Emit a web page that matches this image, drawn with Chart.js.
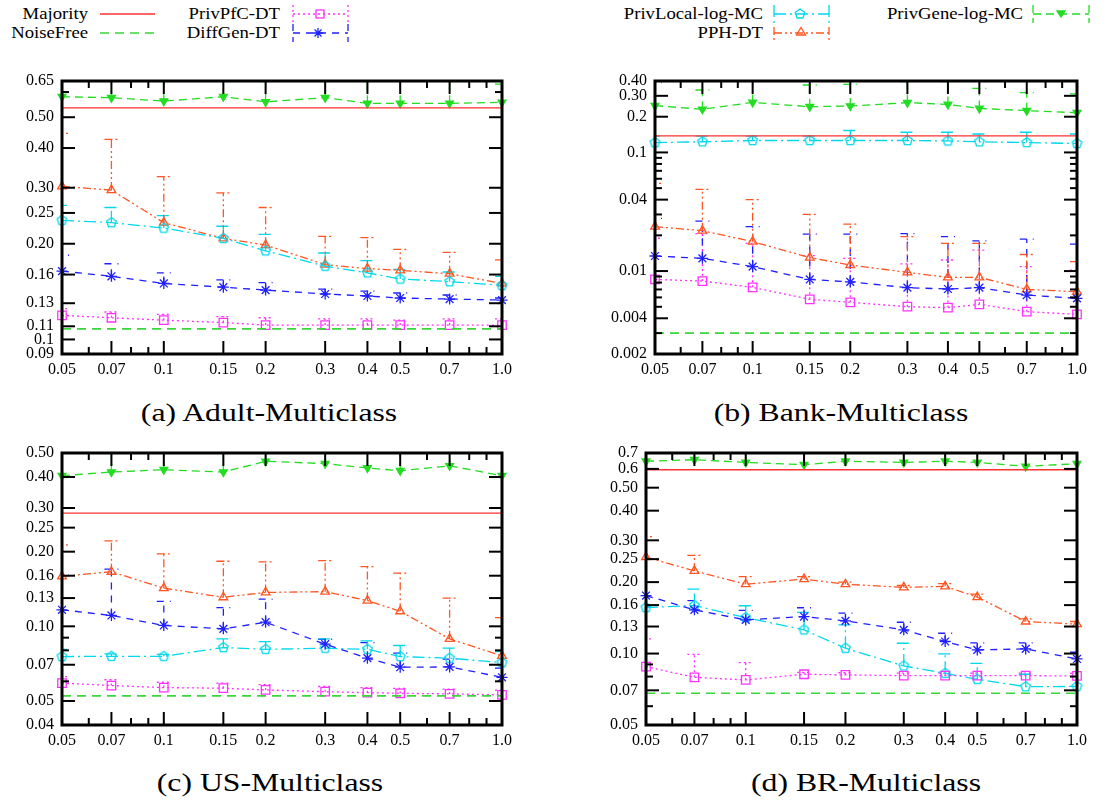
<!DOCTYPE html>
<html>
<head>
<meta charset="utf-8">
<title>Multiclass error rates</title>
<script src="https://cdn.jsdelivr.net/npm/chart.js@4.4.1/dist/chart.umd.min.js"></script>
<style>
  body { margin: 0; background: #fff; font-family: "Liberation Serif", "Times New Roman", serif; }
  #page { position: relative; width: 1110px; height: 805px; overflow: hidden; }
  #page canvas { position: absolute; }
  .lt { position: absolute; width: 200px; text-align: right; font-size: 17px; line-height: 18px; white-space: nowrap;
        transform: scaleX(1.1); transform-origin: right center; }
  .cap { position: absolute; font-size: 26px; line-height: 26px; white-space: nowrap; transform: translateX(-50%) scaleX(1.22); }
  #keys { position: absolute; left: 0; top: 0; }
</style>
</head>
<body>
<div id="page">
  <!-- legend -->
  <div class="lt" style="left:-112px;top:5px">Majority</div>
  <div class="lt" style="left:-112px;top:24px">NoiseFree</div>
  <div class="lt" style="left:80px;top:5px">PrivPfC-DT</div>
  <div class="lt" style="left:80px;top:24px">DiffGen-DT</div>
  <div class="lt" style="left:563px;top:5px">PrivLocal-log-MC</div>
  <div class="lt" style="left:563px;top:24px">PPH-DT</div>
  <div class="lt" style="left:823px;top:5px">PrivGene-log-MC</div>
  <svg id="keys" width="1110" height="46" fill="none" stroke-width="1.3">
    <path d="M100 14H155" stroke="#ff3030"/>
    <path d="M100 33H155" stroke="#38d838" stroke-dasharray="9 6" stroke-width="1.6"/>
    <g stroke="#ff30ff">
      <path d="M293 14H348M293 5V23M348 5V23" stroke-dasharray="2 3"/>
      <rect x="316" y="10" width="8" height="8"/>
    </g>
    <g stroke="#1f1fff">
      <path d="M293 33H348M293 24V42M348 24V42" stroke-dasharray="7 6"/>
      <path d="M313 33H323M318 28V38M314.5 29.5L321.5 36.5M321.5 29.5L314.5 36.5"/>
    </g>
    <g stroke="#00d8ec">
      <path d="M774 14H829M774 5V23M829 5V23" stroke-dasharray="12 4 2 4"/>
      <path d="M800 9L804.8 12.5L802.9 18L797.1 18L795.2 12.5Z"/>
    </g>
    <g stroke="#ff5522">
      <path d="M774 33H829M774 27V42M829 27V42" stroke-dasharray="8 3 2 3 2 3"/>
      <path d="M801 27.5L805.5 35L796.5 35Z"/>
    </g>
    <g stroke="#22dd22">
      <path d="M1033 14H1089M1033 5V23M1089 5V23" stroke-dasharray="8 5"/>
      <path d="M1057 11L1065 11L1061 17Z" fill="#22dd22"/>
    </g>
  </svg>
  <div class="cap" style="left:269px;top:400px">(a) Adult-Multiclass</div>
  <div class="cap" style="left:841px;top:400px">(b) Bank-Multiclass</div>
  <div class="cap" style="left:270px;top:770px">(c) US-Multiclass</div>
  <div class="cap" style="left:866px;top:770px">(d) BR-Multiclass</div>
</div>
<script>
// privacy budget on the x axis (log)
const xVals = [0.05, 0.07, 0.1, 0.15, 0.2, 0.3, 0.4, 0.5, 0.7, 1.0];
const xLabels = ['0.05', '0.07', '0.1', '0.15', '0.2', '0.3', '0.4', '0.5', '0.7', '1.0'];
const xMinor = [0.06, 0.08, 0.09, 0.6, 0.8, 0.9];

// (a) Adult
const adultYTicks = [0.65, 0.50, 0.40, 0.30, 0.25, 0.20, 0.16, 0.13, 0.11, 0.1, 0.09];
const adultYLabels = ['0.65', '0.50', '0.40', '0.30', '0.25', '0.20', '0.16', '0.13', '0.11', '0.1', '0.09'];
const adultYMinor = [0.6];
const adultMajority = 0.535;
const adultNoiseFree = 0.108;
const adultPfC = [0.119, 0.117, 0.115, 0.113, 0.111, 0.111, 0.111, 0.111, 0.111, 0.111];
const adultPfCErr = [0.125, 0.122, 0.120, 0.118, 0.117, 0.116, 0.116, 0.115, 0.116, 0.116];
const adultDiffGen = [0.164, 0.158, 0.150, 0.146, 0.143, 0.139, 0.137, 0.135, 0.134, 0.133];
const adultDiffGenErr = [0.184, 0.173, 0.162, 0.154, 0.151, 0.144, 0.142, 0.140, 0.138, 0.135];
const adultLocal = [0.237, 0.233, 0.224, 0.208, 0.190, 0.170, 0.162, 0.155, 0.152, 0.148];
const adultLocalErr = [0.264, 0.260, 0.245, 0.227, 0.214, 0.187, 0.177, 0.166, 0.163, 0.158];
const adultPPH = [0.303, 0.295, 0.233, 0.208, 0.198, 0.172, 0.167, 0.165, 0.161, 0.150];
const adultPPHErr = [0.445, 0.426, 0.325, 0.289, 0.260, 0.211, 0.209, 0.192, 0.188, 0.178];
const adultGene = [0.580, 0.576, 0.562, 0.580, 0.559, 0.576, 0.553, 0.553, 0.553, 0.557];
const adultGeneErr = [0.72, 0.72, 0.72, 0.72, 0.647, 0.72, 0.72, 0.72, 0.72, 0.635];

// (b) Bank
const bankYTicks = [0.40, 0.30, 0.2, 0.1, 0.04, 0.01, 0.004, 0.002];
const bankYLabels = ['0.40', '0.30', '0.2', '0.1', '0.04', '0.01', '0.004', '0.002'];
const bankYMinor = [0.09, 0.08, 0.07, 0.06, 0.05, 0.03, 0.02, 0.009, 0.008, 0.007, 0.006, 0.005, 0.003];
const bankMajority = 0.138;
const bankNoiseFree = 0.003;
const bankPfC = [0.0085, 0.00824, 0.00729, 0.00578, 0.00545, 0.00501, 0.00492, 0.00524, 0.00455, 0.00432];
const bankPfCErr = [0.0189, 0.0207, 0.0171, 0.0135, 0.0128, 0.0115, 0.0124, 0.0150, 0.0109, 0.0102];
const bankDiffGen = [0.0134, 0.0128, 0.0109, 0.0085, 0.0081, 0.00725, 0.00706, 0.00725, 0.00628, 0.00589];
const bankDiffGenErr = [0.0278, 0.0264, 0.0237, 0.0205, 0.0205, 0.0207, 0.0195, 0.0180, 0.0186, 0.0169];
const bankLocal = [0.121, 0.123, 0.126, 0.126, 0.126, 0.126, 0.125, 0.123, 0.121, 0.119];
const bankLocalErr = [0.137, 0.137, 0.137, 0.137, 0.153, 0.148, 0.148, 0.143, 0.148, 0.143];
const bankPPH = [0.0237, 0.0219, 0.0177, 0.0130, 0.01125, 0.00976, 0.00885, 0.00885, 0.00701, 0.0067];
const bankPPHErr = [0.0549, 0.0488, 0.0400, 0.0301, 0.0249, 0.0195, 0.0171, 0.0171, 0.0138, 0.0120];
const bankGene = [0.248, 0.231, 0.264, 0.243, 0.246, 0.263, 0.254, 0.235, 0.225, 0.216];
const bankGeneErr = [0.387, 0.336, 0.45, 0.370, 0.374, 0.395, 0.395, 0.347, 0.319, 0.311];

// (c) US
const usYTicks = [0.50, 0.40, 0.30, 0.25, 0.20, 0.16, 0.13, 0.10, 0.07, 0.05, 0.04];
const usYLabels = ['0.50', '0.40', '0.30', '0.25', '0.20', '0.16', '0.13', '0.10', '0.07', '0.05', '0.04'];
const usYMinor = [0.09, 0.08, 0.06];
const usMajority = 0.286;
const usNoiseFree = 0.0524;
const usPfC = [0.0590, 0.0577, 0.0566, 0.0563, 0.0554, 0.0545, 0.0540, 0.0537, 0.0534, 0.0529];
const usPfCErr = [0.0627, 0.0609, 0.0595, 0.0590, 0.0582, 0.0572, 0.0566, 0.0562, 0.0558, 0.0553];
const usDiffGen = [0.1166, 0.1106, 0.1008, 0.0977, 0.1039, 0.0847, 0.0744, 0.0684, 0.0686, 0.0623];
const usDiffGenErr = [0.161, 0.170, 0.126, 0.119, 0.1287, 0.0887, 0.0860, 0.0779, 0.0737, 0.0678];
const usLocal = [0.0755, 0.0757, 0.0757, 0.0821, 0.0808, 0.0816, 0.0808, 0.0755, 0.0744, 0.0714];
const usLocalErr = [0.0808, 0.0774, 0.0771, 0.0890, 0.0868, 0.0890, 0.0873, 0.0837, 0.0816, 0.0791];
const usPPH = [0.159, 0.166, 0.1425, 0.131, 0.137, 0.138, 0.127, 0.115, 0.089, 0.076];
const usPPHErr = [0.213, 0.221, 0.196, 0.183, 0.182, 0.184, 0.174, 0.164, 0.130, 0.1085];
const usGene = [0.405, 0.419, 0.428, 0.419, 0.463, 0.453, 0.435, 0.424, 0.444, 0.405];
const usGeneErr = [0.6, 0.6, 0.6, 0.6, 0.6, 0.6, 0.6, 0.6, 0.6, 0.6];

// (d) BR
const brYTicks = [0.7, 0.6, 0.50, 0.40, 0.30, 0.25, 0.20, 0.16, 0.13, 0.10, 0.07, 0.05];
const brYLabels = ['0.7', '0.6', '0.50', '0.40', '0.30', '0.25', '0.20', '0.16', '0.13', '0.10', '0.07', '0.05'];
const brYMinor = [0.09, 0.08, 0.06];
const brMajority = 0.595;
const brNoiseFree = 0.068;
const brPfC = [0.0881, 0.0794, 0.0774, 0.0818, 0.0813, 0.0807, 0.0807, 0.0807, 0.0807, 0.0805];
const brPfCErr = [0.1153, 0.0993, 0.0916, 0.0833, 0.0830, 0.0827, 0.0827, 0.0827, 0.0827, 0.0825];
const brDiffGen = [0.1756, 0.1528, 0.1386, 0.1432, 0.1373, 0.1259, 0.1124, 0.1036, 0.1046, 0.0949];
const brDiffGenErr = [0.200, 0.167, 0.152, 0.156, 0.148, 0.1355, 0.1218, 0.111, 0.111, 0.1013];
const brLocal = [0.1563, 0.1594, 0.1418, 0.1259, 0.1053, 0.0887, 0.0826, 0.0779, 0.0725, 0.0727];
const brLocalErr = [0.158, 0.187, 0.159, 0.149, 0.132, 0.1105, 0.0996, 0.091, 0.0818, 0.0727];
const brPPH = [0.255, 0.223, 0.196, 0.206, 0.196, 0.190, 0.192, 0.173, 0.1365, 0.133];
const brPPHErr = [0.311, 0.259, 0.211, 0.211, 0.200, 0.1935, 0.197, 0.178, 0.140, 0.1365];
const brGene = [0.646, 0.656, 0.639, 0.625, 0.646, 0.639, 0.646, 0.639, 0.615, 0.631];
const brGeneErr = [0.8, 0.8, 0.8, 0.8, 0.8, 0.8, 0.8, 0.8, 0.8, 0.8];

// pentagon marker for PrivLocal (no built-in one)
function pentagon(color) {
  const c = document.createElement('canvas');
  c.width = 13; c.height = 13;
  const g = c.getContext('2d');
  g.strokeStyle = color; g.lineWidth = 1.3;
  g.beginPath();
  for (let k = 0; k < 5; k++) {
    const a = -Math.PI / 2 + k * 2 * Math.PI / 5;
    g.lineTo(6.5 + 5 * Math.cos(a), 6.5 + 5 * Math.sin(a));
  }
  g.closePath(); g.stroke();
  return c;
}

const styles = {
  majority: { color: '#ff3030', dash: [], width: 1.3 },
  noiseFree: { color: '#38d838', dash: [9, 6], width: 1.6 },
  pfc: { color: '#ff30ff', dash: [2, 3], point: 'rect', radius: 6 },
  diffGen: { color: '#1f1fff', dash: [7, 6], point: 'star', radius: 5.5 },
  local: { color: '#00d8ec', dash: [12, 4, 2, 4], point: pentagon('#00d8ec'), radius: 5 },
  pph: { color: '#ff5522', dash: [8, 3, 2, 3, 2, 3], point: 'triangle', radius: 5 },
  gene: { color: '#22dd22', dash: [8, 5], point: 'triangle', radius: 4.5, rot: 180, fill: '#22dd22' }
};

function flat(v, st) {
  return {
    data: xVals.map(x => ({ x: x, y: v })),
    borderColor: st.color, borderDash: st.dash, borderWidth: st.width,
    pointRadius: 0, fill: false, clip: false
  };
}

function series(vals, err, st) {
  return {
    data: xVals.map((x, i) => ({ x: x, y: vals[i] })),
    errTop: err,
    borderColor: st.color, borderDash: st.dash, borderWidth: 1.3,
    pointStyle: st.point, pointRadius: st.radius, pointRotation: st.rot || 0,
    pointBorderColor: st.color, pointBackgroundColor: st.fill || 'rgba(0,0,0,0)',
    pointBorderWidth: 1.3, fill: false, tension: 0, clip: false
  };
}

// upper error bars, drawn in the line style of each series
const errorBars = {
  id: 'errorBars',
  beforeDatasetsDraw(chart) {
    const { ctx, chartArea: a, scales: { y } } = chart;
    ctx.save();
    ctx.beginPath();
    ctx.rect(a.left, a.top, a.right - a.left, a.bottom - a.top);
    ctx.clip();
    chart.data.datasets.forEach((ds, i) => {
      if (!ds.errTop) return;
      ctx.strokeStyle = ds.borderColor;
      ctx.lineWidth = ds.borderWidth;
      ctx.setLineDash(ds.borderDash);
      chart.getDatasetMeta(i).data.forEach((p, j) => {
        const top = y.getPixelForValue(ds.errTop[j]);
        ctx.beginPath();
        ctx.moveTo(p.x, p.y); ctx.lineTo(p.x, top);
        ctx.moveTo(p.x - 7, top); ctx.lineTo(p.x + 7, top);
        ctx.stroke();
      });
    });
    ctx.restore();
  }
};

// gnuplot-like frame with inward tics
const frame = {
  id: 'frame',
  afterDraw(chart, args, o) {
    const { ctx, chartArea: a, scales: { x, y } } = chart;
    ctx.save();
    ctx.strokeStyle = '#000';
    ctx.lineWidth = 2;
    const seg = (x1, y1, x2, y2) => { ctx.beginPath(); ctx.moveTo(x1, y1); ctx.lineTo(x2, y2); ctx.stroke(); };
    const xMark = (v, len) => {
      const p = x.getPixelForValue(v);
      seg(p, a.bottom, p, a.bottom - len); seg(p, a.top, p, a.top + len);
    };
    const yMark = (v, len) => {
      const p = y.getPixelForValue(v);
      seg(a.left, p, a.left + len, p); seg(a.right, p, a.right - len, p);
    };
    xVals.forEach(v => xMark(v, 13));
    xMinor.forEach(v => xMark(v, 7));
    o.major.forEach(v => yMark(v, 13));
    o.minor.forEach(v => yMark(v, 7));
    ctx.lineWidth = 3;
    ctx.strokeRect(a.left, a.top, a.right - a.left, a.bottom - a.top);
    ctx.restore();
  }
};

Chart.defaults.font.family = '"Liberation Serif", "Times New Roman", serif';
Chart.defaults.font.size = 16;
Chart.defaults.color = '#000';

// label overhang must not push the plot area around
function noOverhang(s) {
  s.paddingTop = 0; s.paddingBottom = 0; s.paddingLeft = 0; s.paddingRight = 0;
}

function makeChart(box, area, yMin, yMax, yTicks, yLabels, yMinor, datasets) {
  const cv = document.createElement('canvas');
  cv.width = box.w; cv.height = box.h;
  cv.style.left = box.left + 'px'; cv.style.top = box.top + 'px';
  document.getElementById('page').appendChild(cv);
  new Chart(cv, {
    type: 'line',
    data: { datasets: datasets },
    options: {
      responsive: false,
      animation: false,
      events: [],
      layout: { autoPadding: false, padding: { left: 0, bottom: 0, top: area.t - box.top, right: box.left + box.w - area.r } },
      plugins: {
        legend: { display: false },
        tooltip: { enabled: false },
        frame: { major: yTicks, minor: yMinor }
      },
      scales: {
        x: {
          type: 'logarithmic', min: 0.05, max: 1.0,
          grid: { display: false, drawTicks: false, tickLength: 0 },
          border: { display: false },
          afterBuildTicks: s => { s.ticks = xVals.map(v => ({ value: v })); },
          afterFit: s => { s.height = box.top + box.h - area.b; noOverhang(s); },
          ticks: { autoSkip: false, maxRotation: 0, padding: 6, callback: (v, i) => xLabels[i] }
        },
        y: {
          type: 'logarithmic', min: yMin, max: yMax,
          grid: { display: false, drawTicks: false, tickLength: 0 },
          border: { display: false },
          afterBuildTicks: s => { s.ticks = yTicks.map(v => ({ value: v })); },
          afterFit: s => { s.width = area.l - box.left; noOverhang(s); },
          ticks: { autoSkip: false, padding: 8, callback: (v, i) => yLabels[i] }
        }
      }
    },
    plugins: [errorBars, frame]
  });
}

function groupSets(maj, nf, pfc, pfcErr, dg, dgErr, loc, locErr, pph, pphErr, gene, geneErr) {
  return [
    flat(maj, styles.majority),
    flat(nf, styles.noiseFree),
    series(pfc, pfcErr, styles.pfc),
    series(dg, dgErr, styles.diffGen),
    series(loc, locErr, styles.local),
    series(pph, pphErr, styles.pph),
    series(gene, geneErr, styles.gene)
  ];
}

makeChart({ left: 0, top: 70, w: 530, h: 330 }, { l: 62, t: 81, r: 502, b: 354 },
  0.09, 0.65, adultYTicks, adultYLabels, adultYMinor,
  groupSets(adultMajority, adultNoiseFree, adultPfC, adultPfCErr, adultDiffGen, adultDiffGenErr,
    adultLocal, adultLocalErr, adultPPH, adultPPHErr, adultGene, adultGeneErr));

makeChart({ left: 570, top: 70, w: 540, h: 330 }, { l: 655, t: 81, r: 1077, b: 354 },
  0.002, 0.40, bankYTicks, bankYLabels, bankYMinor,
  groupSets(bankMajority, bankNoiseFree, bankPfC, bankPfCErr, bankDiffGen, bankDiffGenErr,
    bankLocal, bankLocalErr, bankPPH, bankPPHErr, bankGene, bankGeneErr));

makeChart({ left: 0, top: 440, w: 530, h: 330 }, { l: 62, t: 453, r: 502, b: 725 },
  0.04, 0.50, usYTicks, usYLabels, usYMinor,
  groupSets(usMajority, usNoiseFree, usPfC, usPfCErr, usDiffGen, usDiffGenErr,
    usLocal, usLocalErr, usPPH, usPPHErr, usGene, usGeneErr));

makeChart({ left: 570, top: 440, w: 540, h: 330 }, { l: 646, t: 453, r: 1077, b: 725 },
  0.05, 0.7, brYTicks, brYLabels, brYMinor,
  groupSets(brMajority, brNoiseFree, brPfC, brPfCErr, brDiffGen, brDiffGenErr,
    brLocal, brLocalErr, brPPH, brPPHErr, brGene, brGeneErr));
</script>
</body>
</html>
